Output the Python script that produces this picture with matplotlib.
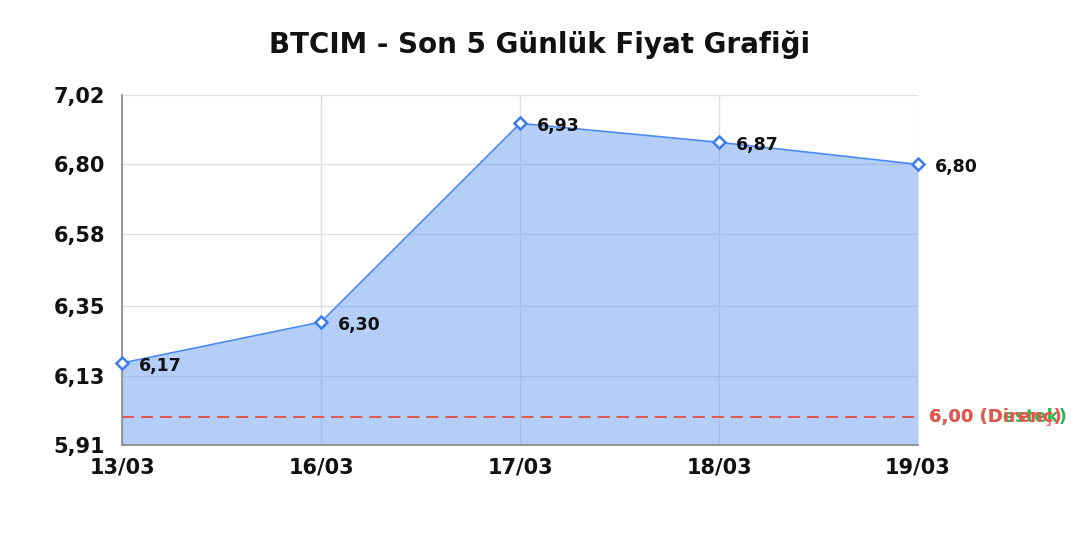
import matplotlib
matplotlib.use("Agg")
import matplotlib.pyplot as plt

dates = ["13/03", "16/03", "17/03", "18/03", "19/03"]
prices = [6.17, 6.30, 6.93, 6.87, 6.80]
support = 6.00
resistance = 6.00
yticks = [5.91, 6.13, 6.35, 6.58, 6.80, 7.02]
title = "BTCIM - Son 5 Günlük Fiyat Grafiği"

plt.rcParams['font.family'] = ['DejaVu Sans']
plt.rcParams['lines.scale_dashes'] = False
fig = plt.figure(figsize=(10.8, 5.4), dpi=100)
ax = fig.add_axes([0.113, 0.176, 0.737, 0.648])

x = list(range(len(dates)))
ax.fill_between(x, prices, 5.91, color="#6a9ef0", alpha=0.5, zorder=1, linewidth=0)
ax.plot(x, prices, color="#4a8af4", linewidth=1.2, zorder=3)
ax.plot(x, prices, linestyle="none", marker="D", markersize=6, markerfacecolor="white",
        markeredgecolor="#3b7bf0", markeredgewidth=1.8, zorder=4, clip_on=False)

for xi, p in zip(x, prices):
    ax.annotate(f"{p:.2f}".replace(".", ","), (xi, p), xytext=(12, -2),
                textcoords="offset points", ha="left", va="center",
                fontsize=12.5, fontweight="bold", color="#111111", zorder=5,
                annotation_clip=False)

dash = (0, (8.6, 5.1))
ax.axhline(support, color="#2fb84f", linestyle=dash, linewidth=1.2, zorder=2)
ax.axhline(resistance, color="#f05050", linestyle=dash, linewidth=1.3, zorder=2.1)
ax.annotate(f"{support:.2f} (Destek)".replace(".", ","), (1, support), xycoords=("axes fraction", "data"),
            xytext=(8, 0), textcoords="offset points", ha="left", va="center",
            fontsize=13, fontweight="bold", color="#2fb84f", annotation_clip=False)
ax.annotate(f"{resistance:.2f} (Direnç)".replace(".", ","), (1, resistance), xycoords=("axes fraction", "data"),
            xytext=(8, 0), textcoords="offset points", ha="left", va="center",
            fontsize=13, fontweight="bold", color="#f05050", annotation_clip=False)

ax.set_xlim(0, len(dates) - 1)
ax.set_ylim(yticks[0], yticks[-1])
ax.set_xticks(x)
ax.set_xticklabels(dates)
ax.set_yticks(yticks)
ax.set_yticklabels([f"{t:.2f}".replace(".", ",") for t in yticks])
for lbl in ax.get_xticklabels() + ax.get_yticklabels():
    lbl.set_fontweight("bold")
    lbl.set_fontsize(15)
    lbl.set_color("#111111")
ax.tick_params(axis="x", length=0, pad=9)
ax.tick_params(axis="y", length=0, pad=12)
ax.set_axisbelow(True)
ax.grid(True, color="#e0e0e0", linewidth=1)
for s in ["top", "right"]:
    ax.spines[s].set_visible(False)
for s in ["left", "bottom"]:
    ax.spines[s].set_color("#888888")
    ax.spines[s].set_linewidth(1.2)

fig.text(0.5, 0.918, title, ha="center", va="center", fontsize=20, fontweight="bold", color="#111111")

fig.savefig("out.png", dpi=100, facecolor="white")
